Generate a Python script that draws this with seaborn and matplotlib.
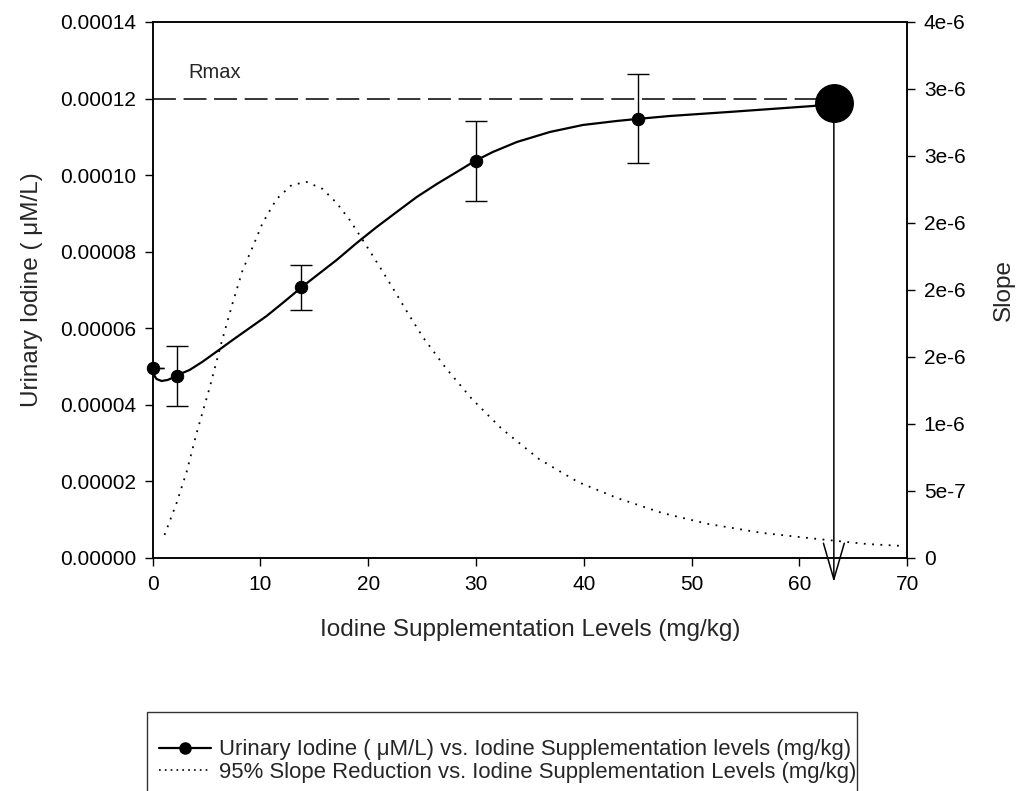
import numpy as np
import pandas as pd
import matplotlib
matplotlib.use("Agg")
import matplotlib.pyplot as plt
import matplotlib.ticker as mticker
from matplotlib.lines import Line2D
import seaborn as sns

# ==============================
# Data
# ==============================
# measured points (mg/kg, uM/L) with error bars
dose = [0, 2.3, 13.8, 30.0, 45.0]
urinary = [4.96e-5, 4.75e-5, 7.07e-5, 1.037e-4, 1.147e-4]
urinary_err = [0, 7.9e-6, 5.9e-6, 1.05e-5, 1.16e-5]

# fitted curve through the points
fit_x = [0, 0.19, 0.37, 0.84, 1.39, 2.04, 2.32, 3.44, 4.64, 5.94, 7.43, 9.01,
         10.58, 12.07, 13.83, 15.23, 17.08, 18.94, 20.80, 22.65, 24.51, 26.37,
         28.22, 29.9, 31.57, 33.80, 36.86, 39.92, 43.08, 44.94, 48.0, 53.85,
         61.28, 63.2]
fit_y = [4.963e-5, 4.754e-5, 4.675e-5, 4.623e-5, 4.649e-5, 4.728e-5, 4.780e-5,
         4.911e-5, 5.127e-5, 5.389e-5, 5.694e-5, 6.008e-5, 6.32e-5, 6.66e-5,
         7.071e-5, 7.38e-5, 7.784e-5, 8.228e-5, 8.646e-5, 9.038e-5, 9.429e-5,
         9.769e-5, 1.0082e-4, 1.0370e-4, 1.0605e-4, 1.0866e-4, 1.1127e-4,
         1.1310e-4, 1.1415e-4, 1.1467e-4, 1.1545e-4, 1.1657e-4, 1.1806e-4,
         1.1877e-4]

# slope curve (right axis)
slope_x = [1.11, 2.23, 3.16, 4.09, 5.29, 6.41, 7.43, 8.36, 9.29, 10.21, 11.51,
           12.91, 14.30, 15.78, 17.08, 18.29, 19.50, 21.08, 22.28, 23.68, 25.07,
           27.20, 29.62, 32.40, 35.84, 39.46, 43.08, 47.26, 51.53, 56.54, 61.65,
           66.29, 69.54]
slope_y = [1.72e-7, 4.10e-7, 6.42e-7, 9.33e-7, 1.269e-6, 1.612e-6, 1.903e-6,
           2.149e-6, 2.321e-6, 2.500e-6, 2.679e-6, 2.784e-6, 2.806e-6, 2.754e-6,
           2.649e-6, 2.522e-6, 2.373e-6, 2.172e-6, 2.015e-6, 1.828e-6, 1.649e-6,
           1.418e-6, 1.187e-6, 9.63e-7, 7.39e-7, 5.67e-7, 4.48e-7, 3.36e-7,
           2.54e-7, 1.87e-7, 1.42e-7, 1.04e-7, 8.96e-8]

rmax = 1.2e-4
x95, y95 = 63.2, 1.1877e-4

right_ticks = [0, 5e-7, 1e-6, 1.5e-6, 2e-6, 2.5e-6, 3e-6, 3.5e-6, 4e-6]
right_labels = ["0", "5e-7", "1e-6", "2e-6", "2e-6", "2e-6", "3e-6", "3e-6", "4e-6"]

fit_df = pd.DataFrame({"x": fit_x, "y": fit_y})
slope_df = pd.DataFrame({"x": slope_x, "y": slope_y})
pts_df = pd.DataFrame({"x": dose, "y": urinary, "err": urinary_err})

# ==============================
# Plot
# ==============================
sns.set_style("ticks")
plt.rcParams["font.family"] = ["Liberation Sans", "DejaVu Sans"]
plt.rcParams["xtick.direction"] = "out"
plt.rcParams["ytick.direction"] = "out"

fig = plt.figure(figsize=(10.17, 7.91), dpi=100)
ax = fig.add_axes([0.150, 0.2946, 0.742, 0.6776])
ax2 = ax.twinx()

# fitted line + points
sns.lineplot(data=fit_df, x="x", y="y", ax=ax, color="black", lw=1.6,
             sort=False, estimator=None)
ax.errorbar(pts_df["x"], pts_df["y"], yerr=pts_df["err"], fmt="none",
            ecolor="black", elinewidth=1.0, capsize=8, capthick=1.0)
sns.scatterplot(data=pts_df, x="x", y="y", ax=ax, color="black", s=80,
                edgecolor="black", zorder=5, clip_on=False)

# Rmax line and 95% point
ax.plot([0, x95], [rmax, rmax], color="black", lw=1.1, dashes=(15, 5))
ax.text(3.3, 1.267e-4, "Rmax", fontsize=14.5, va="center", ha="left")
ax.plot([x95], [y95], "o", color="black", ms=27, zorder=6, clip_on=False)
ax.annotate("", xy=(x95, -6.3e-6), xytext=(x95, y95),
            arrowprops=dict(arrowstyle="->,head_length=2.6,head_width=0.75",
                            mutation_scale=10, lw=1.1, color="black",
                            shrinkA=0, shrinkB=0),
            annotation_clip=False)

# slope (dotted) on right axis
sns.lineplot(data=slope_df, x="x", y="y", ax=ax2, color="black", lw=1.3,
             linestyle=(0, (1, 3.6)), sort=False, estimator=None)

ax.set_xlim(0, 70)
ax.set_ylim(0, 0.00014)
ax2.set_ylim(0, 4e-6)
ax.set_xticks(range(0, 71, 10))
ax.set_yticks(np.arange(0, 0.000141, 0.00002))
ax.yaxis.set_major_formatter(mticker.FormatStrFormatter("%.5f"))
ax2.yaxis.set_major_locator(mticker.FixedLocator(right_ticks))
ax2.yaxis.set_major_formatter(mticker.FixedFormatter(right_labels))

ax.set_xlabel("Iodine Supplementation Levels (mg/kg)", fontsize=17.5, labelpad=18)
ax.set_ylabel("Urinary Iodine ( \u03bcM/L)", fontsize=17.5, labelpad=12)
ax2.set_ylabel("Slope", fontsize=17.5, labelpad=20)

for a in (ax, ax2):
    a.tick_params(axis="both", labelsize=15, length=6, width=1.0, pad=6,
                  color="black", labelcolor="black")
    for sp in a.spines.values():
        sp.set_linewidth(1.1)
        sp.set_color("black")
ax.tick_params(axis="y", right=False)
ax2.tick_params(axis="y", left=False)

handles = [
    Line2D([], [], color="black", lw=1.6, marker="o", ms=8),
    Line2D([], [], color="black", lw=1.2, linestyle=(0, (1, 2.5))),
]
labels = [
    "Urinary Iodine ( \u03bcM/L) vs. Iodine Supplementation levels (mg/kg)",
    "95% Slope Reduction vs. Iodine Supplementation Levels (mg/kg)",
]
leg = fig.legend(handles, labels, loc="upper left",
                 bbox_to_anchor=(0.1445, 0.0, 0.6985, 0.0999), mode="expand",
                 fontsize=15.9, frameon=True, fancybox=False, edgecolor="black",
                 borderpad=0.56, labelspacing=0.05, handlelength=2.35,
                 handletextpad=0.36, borderaxespad=0,
                 title=" ", title_fontsize=10)
leg.get_frame().set_linewidth(1.0)

fig.savefig("out.png", dpi=100)
